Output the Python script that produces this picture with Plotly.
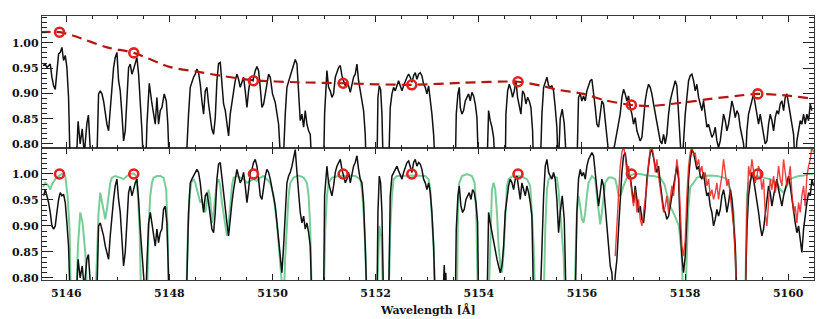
import plotly.graph_objects as go

# ---------------- data ----------------
# top panel: observed spectrum (black)
wl_top = [5145.55, 5145.593, 5145.625, 5145.690, 5145.722, 5145.755, 5145.787, 5145.819, 5145.852, 5145.884,
          5145.916, 5145.948, 5145.981, 5146.013, 5146.045, 5146.078, 5146.19, 5146.23, 5146.27, 5146.31,
          5146.35, 5146.40, 5146.43, 5146.46, 5146.49, 5146.59, 5146.608, 5146.627, 5146.660, 5146.692,
          5146.724, 5146.757, 5146.789, 5146.821, 5146.853, 5146.886, 5146.918, 5146.950, 5146.983, 5147.015,
          5147.047, 5147.080, 5147.112, 5147.144, 5147.177, 5147.209, 5147.241, 5147.274, 5147.306, 5147.338,
          5147.371, 5147.403, 5147.435, 5147.468, 5147.500, 5147.54, 5147.565, 5147.61, 5147.661, 5147.694,
          5147.726, 5147.758, 5147.790, 5147.823, 5147.855, 5147.90, 5147.94, 5147.97, 5148.00, 5148.32,
          5148.340, 5148.372, 5148.405, 5148.437, 5148.469, 5148.502, 5148.534, 5148.566, 5148.599, 5148.631,
          5148.663, 5148.696, 5148.728, 5148.760, 5148.793, 5148.825, 5148.857, 5148.890, 5148.922, 5148.954,
          5148.987, 5149.019, 5149.051, 5149.084, 5149.116, 5149.148, 5149.180, 5149.213, 5149.245, 5149.277,
          5149.310, 5149.342, 5149.374, 5149.407, 5149.439, 5149.471, 5149.504, 5149.536, 5149.568, 5149.62,
          5149.665, 5149.698, 5149.730, 5149.762, 5149.795, 5149.827, 5149.859, 5149.892, 5149.924, 5149.956,
          5150.00, 5150.053, 5150.086, 5150.118, 5150.150, 5150.215, 5150.247, 5150.279, 5150.325, 5150.377,
          5150.441, 5150.474, 5150.506, 5150.538, 5150.570, 5150.603, 5150.635, 5150.667, 5150.700, 5150.732,
          5150.764, 5150.99, 5151.010, 5151.036, 5151.055, 5151.087, 5151.120, 5151.152, 5151.184, 5151.217,
          5151.249, 5151.281, 5151.314, 5151.346, 5151.378, 5151.411, 5151.443, 5151.475, 5151.508, 5151.540,
          5151.572, 5151.604, 5151.637, 5151.669, 5151.701, 5151.734, 5151.766, 5151.798, 5151.818, 5152.025,
          5152.044, 5152.070, 5152.096, 5152.122, 5152.148, 5152.251, 5152.283, 5152.316, 5152.348, 5152.380,
          5152.413, 5152.445, 5152.477, 5152.510, 5152.542, 5152.574, 5152.607, 5152.639, 5152.671, 5152.704,
          5152.736, 5152.768, 5152.800, 5152.833, 5152.865, 5152.897, 5152.930, 5152.962, 5152.994, 5153.027,
          5153.059, 5153.091, 5153.124, 5153.156, 5153.544, 5153.563, 5153.595, 5153.621, 5153.641, 5153.673,
          5153.705, 5153.738, 5153.770, 5153.802, 5153.835, 5153.867, 5153.899, 5153.932, 5153.964, 5153.996,
          5154.158, 5154.190, 5154.222, 5154.255, 5154.287, 5154.319, 5154.513, 5154.526, 5154.559, 5154.591,
          5154.630, 5154.655, 5154.688, 5154.720, 5154.752, 5154.785, 5154.817, 5154.849, 5154.882, 5154.914,
          5154.946, 5154.979, 5155.011, 5155.043, 5155.063, 5155.192, 5155.224, 5155.257, 5155.289, 5155.321,
          5155.354, 5155.385, 5155.417, 5155.450, 5155.482, 5155.514, 5155.540, 5155.579, 5155.618, 5155.657,
          5155.708, 5155.902, 5155.934, 5155.967, 5155.999, 5156.031, 5156.064, 5156.096, 5156.128, 5156.161,
          5156.193, 5156.225, 5156.258, 5156.290, 5156.322, 5156.355, 5156.387, 5156.419, 5156.452, 5156.484,
          5156.516, 5156.549, 5156.742, 5156.775, 5156.807, 5156.839, 5156.872, 5156.904, 5156.936, 5156.969,
          5157.001, 5157.033, 5157.066, 5157.098, 5157.130, 5157.163, 5157.195, 5157.227, 5157.259, 5157.292,
          5157.324, 5157.356, 5157.389, 5157.421, 5157.453, 5157.486, 5157.518, 5157.550, 5157.583, 5157.615,
          5157.647, 5157.680, 5157.712, 5157.744, 5157.777, 5157.809, 5157.841, 5157.874, 5157.906, 5157.938,
          5158.003, 5158.035, 5158.068, 5158.100, 5158.132, 5158.165, 5158.197, 5158.229, 5158.262, 5158.294,
          5158.326, 5158.358, 5158.391, 5158.423, 5158.455, 5158.488, 5158.520, 5158.552, 5158.585, 5158.617,
          5158.649, 5158.682, 5158.714, 5158.746, 5158.779, 5158.811, 5158.843, 5158.876, 5158.908, 5158.940,
          5158.973, 5159.005, 5159.037, 5159.069, 5159.102, 5159.134, 5159.166, 5159.199, 5159.231, 5159.263,
          5159.296, 5159.328, 5159.360, 5159.393, 5159.425, 5159.457, 5159.490, 5159.522, 5159.554, 5159.587,
          5159.619, 5159.651, 5159.684, 5159.716, 5159.748, 5159.781, 5159.813, 5159.845, 5159.878, 5159.910,
          5159.942, 5159.974, 5160.007, 5160.039, 5160.071, 5160.104, 5160.136, 5160.168, 5160.201, 5160.233,
          5160.265, 5160.298, 5160.330, 5160.362, 5160.395, 5160.427, 5160.459, 5160.492]
fl_top = [0.955, 0.958, 0.951, 0.958, 0.932, 0.915, 0.908, 0.938, 0.978, 0.981,
          0.991, 0.965, 0.975, 0.951, 0.892, 0.75, 0.75, 0.845, 0.80, 0.83,
          0.78, 0.84, 0.857, 0.80, 0.75, 0.75, 0.859, 0.899, 0.905, 0.899,
          0.885, 0.859, 0.839, 0.826, 0.872, 0.925, 0.951, 0.971, 0.981, 0.925,
          0.905, 0.859, 0.806, 0.826, 0.892, 0.951, 0.958, 0.938, 0.948, 0.958,
          0.971, 0.938, 0.885, 0.826, 0.75, 0.75, 0.839, 0.920, 0.880, 0.859,
          0.839, 0.892, 0.839, 0.866, 0.872, 0.899, 0.885, 0.839, 0.75, 0.75,
          0.806, 0.859, 0.912, 0.925, 0.932, 0.938, 0.948, 0.941, 0.918, 0.885,
          0.859, 0.905, 0.912, 0.879, 0.852, 0.829, 0.819, 0.852, 0.925, 0.959,
          0.961, 0.925, 0.879, 0.866, 0.839, 0.816, 0.859, 0.885, 0.905, 0.925,
          0.938, 0.928, 0.912, 0.925, 0.932, 0.905, 0.872, 0.905, 0.928, 0.925,
          0.945, 0.953, 0.945, 0.912, 0.872, 0.879, 0.899, 0.925, 0.938, 0.932,
          0.899, 0.882, 0.859, 0.839, 0.78, 0.78, 0.859, 0.912, 0.928, 0.945,
          0.967, 0.958, 0.900, 0.846, 0.859, 0.833, 0.866, 0.839, 0.826, 0.819,
          0.75, 0.75, 0.859, 0.905, 0.945, 0.912, 0.905, 0.892, 0.899, 0.932,
          0.941, 0.951, 0.955, 0.935, 0.925, 0.915, 0.922, 0.915, 0.902, 0.918,
          0.932, 0.938, 0.958, 0.925, 0.905, 0.892, 0.866, 0.819, 0.75, 0.75,
          0.892, 0.915, 0.908, 0.859, 0.75, 0.75, 0.872, 0.899, 0.912, 0.905,
          0.918, 0.925, 0.915, 0.905, 0.915, 0.925, 0.932, 0.938, 0.932, 0.922,
          0.935, 0.941, 0.928, 0.938, 0.941, 0.935, 0.918, 0.912, 0.899, 0.915,
          0.892, 0.859, 0.819, 0.75, 0.75, 0.859, 0.899, 0.912, 0.872, 0.859,
          0.866, 0.885, 0.892, 0.899, 0.885, 0.902, 0.895, 0.879, 0.852, 0.75,
          0.75, 0.866, 0.846, 0.833, 0.813, 0.75, 0.75, 0.859, 0.905, 0.918,
          0.905, 0.892, 0.905, 0.925, 0.892, 0.872, 0.859, 0.905, 0.899, 0.879,
          0.892, 0.885, 0.872, 0.826, 0.75, 0.75, 0.859, 0.912, 0.925, 0.932,
          0.915, 0.913, 0.915, 0.905, 0.872, 0.833, 0.75, 0.85, 0.869, 0.84,
          0.75, 0.75, 0.892, 0.899, 0.885, 0.895, 0.885, 0.905, 0.915, 0.925,
          0.928, 0.905, 0.872, 0.839, 0.833, 0.859, 0.885, 0.879, 0.839, 0.806,
          0.75, 0.75, 0.859, 0.892, 0.908, 0.899, 0.885, 0.895, 0.872, 0.859,
          0.839, 0.852, 0.826, 0.813, 0.806, 0.813, 0.859, 0.885, 0.905, 0.918,
          0.912, 0.899, 0.879, 0.859, 0.846, 0.826, 0.806, 0.80, 0.819, 0.80,
          0.819, 0.859, 0.885, 0.899, 0.912, 0.925, 0.915, 0.859, 0.75, 0.75,
          0.859, 0.899, 0.925, 0.935, 0.938, 0.925, 0.905, 0.918, 0.892, 0.879,
          0.866, 0.885, 0.859, 0.833, 0.839, 0.826, 0.813, 0.819, 0.833, 0.806,
          0.793, 0.806, 0.839, 0.859, 0.846, 0.826, 0.839, 0.866, 0.885, 0.872,
          0.852, 0.866, 0.859, 0.833, 0.813, 0.80, 0.75, 0.826, 0.859, 0.872,
          0.885, 0.899, 0.879, 0.859, 0.839, 0.859, 0.833, 0.819, 0.80, 0.806,
          0.839, 0.859, 0.846, 0.826, 0.852, 0.866, 0.859, 0.879, 0.885, 0.866,
          0.892, 0.899, 0.879, 0.859, 0.833, 0.819, 0.75, 0.806, 0.826, 0.846,
          0.839, 0.859, 0.839, 0.859, 0.846, 0.879, 0.866]
# continuum fit (red dashed) and continuum points (red circles)
cont_wl = [5145.50, 5145.87, 5146.14, 5146.79, 5147.31, 5148.02, 5148.53, 5148.99, 5149.63, 5150.47,
           5151.37, 5152.0, 5152.70, 5153.7, 5154.76, 5155.22, 5155.48, 5156.03, 5156.42, 5156.96,
           5157.32, 5157.97, 5158.49, 5159.0, 5159.41, 5160.04, 5160.50]
cont_fl = [1.021, 1.021, 1.014, 0.991, 0.980, 0.952, 0.943, 0.935, 0.926, 0.922,
           0.920, 0.918, 0.917, 0.921, 0.923, 0.915, 0.908, 0.899, 0.887, 0.877,
           0.875, 0.882, 0.889, 0.895, 0.899, 0.895, 0.889]
pts_wl = [5145.87, 5147.31, 5149.63, 5151.37, 5152.70, 5154.76, 5156.96, 5159.41]
pts_fl = [1.021, 0.980, 0.925, 0.920, 0.917, 0.923, 0.877, 0.899]
pts_norm = [1.0, 1.0, 1.0, 1.0, 1.0, 1.0, 1.0, 1.0]

# bottom panel: normalised observed spectrum (black)
wl_bot = [5145.561, 5145.593, 5145.625, 5145.658, 5145.690, 5145.722, 5145.755, 5145.787, 5145.819, 5145.852,
          5145.884, 5145.916, 5145.948, 5145.981, 5146.013, 5146.045, 5146.078, 5146.19, 5146.23, 5146.27,
          5146.31, 5146.35, 5146.40, 5146.43, 5146.46, 5146.49, 5146.59, 5146.627, 5146.660, 5146.692,
          5146.724, 5146.757, 5146.789, 5146.821, 5146.853, 5146.886, 5146.918, 5146.950, 5146.983, 5147.015,
          5147.047, 5147.080, 5147.112, 5147.144, 5147.177, 5147.209, 5147.241, 5147.274, 5147.306, 5147.338,
          5147.371, 5147.403, 5147.435, 5147.468, 5147.500, 5147.54, 5147.565, 5147.598, 5147.63, 5147.661,
          5147.694, 5147.726, 5147.758, 5147.790, 5147.823, 5147.855, 5147.887, 5147.919, 5147.952, 5147.98,
          5148.00, 5148.32, 5148.340, 5148.372, 5148.405, 5148.437, 5148.469, 5148.502, 5148.534, 5148.566,
          5148.599, 5148.631, 5148.663, 5148.696, 5148.728, 5148.760, 5148.793, 5148.825, 5148.857, 5148.890,
          5148.922, 5148.954, 5148.987, 5149.019, 5149.051, 5149.084, 5149.116, 5149.148, 5149.180, 5149.213,
          5149.245, 5149.277, 5149.310, 5149.342, 5149.374, 5149.407, 5149.439, 5149.471, 5149.504, 5149.536,
          5149.568, 5149.601, 5149.633, 5149.665, 5149.698, 5149.730, 5149.762, 5149.795, 5149.827, 5149.859,
          5149.892, 5149.924, 5149.956, 5149.989, 5150.021, 5150.053, 5150.086, 5150.118, 5150.150, 5150.182,
          5150.215, 5150.247, 5150.279, 5150.312, 5150.344, 5150.377, 5150.409, 5150.441, 5150.474, 5150.506,
          5150.538, 5150.570, 5150.603, 5150.635, 5150.667, 5150.700, 5150.732, 5150.764, 5150.990, 5151.010,
          5151.036, 5151.055, 5151.087, 5151.120, 5151.152, 5151.184, 5151.217, 5151.249, 5151.281, 5151.314,
          5151.346, 5151.378, 5151.411, 5151.443, 5151.475, 5151.508, 5151.540, 5151.572, 5151.604, 5151.637,
          5151.669, 5151.701, 5151.734, 5151.766, 5151.798, 5151.831, 5152.025, 5152.044, 5152.070, 5152.096,
          5152.122, 5152.154, 5152.251, 5152.283, 5152.316, 5152.348, 5152.380, 5152.413, 5152.445, 5152.477,
          5152.510, 5152.542, 5152.574, 5152.607, 5152.639, 5152.671, 5152.704, 5152.736, 5152.768, 5152.800,
          5152.833, 5152.865, 5152.897, 5152.930, 5152.962, 5152.994, 5153.027, 5153.059, 5153.091, 5153.124,
          5153.156, 5153.30, 5153.33, 5153.345, 5153.36, 5153.38, 5153.544, 5153.563, 5153.595, 5153.621,
          5153.654, 5153.686, 5153.718, 5153.751, 5153.783, 5153.815, 5153.848, 5153.880, 5153.912, 5153.945,
          5153.977, 5153.996, 5154.16, 5154.190, 5154.222, 5154.255, 5154.287, 5154.319, 5154.352, 5154.384,
          5154.416, 5154.449, 5154.481, 5154.513, 5154.546, 5154.578, 5154.610, 5154.643, 5154.675, 5154.707,
          5154.740, 5154.772, 5154.804, 5154.836, 5154.869, 5154.901, 5154.933, 5154.966, 5154.998, 5155.030,
          5155.063, 5155.19, 5155.257, 5155.289, 5155.321, 5155.354, 5155.386, 5155.418, 5155.450, 5155.482,
          5155.514, 5155.547, 5155.579, 5155.618, 5155.657, 5155.695, 5155.870, 5155.902, 5155.934, 5155.967,
          5155.999, 5156.031, 5156.064, 5156.096, 5156.128, 5156.161, 5156.193, 5156.225, 5156.258, 5156.290,
          5156.322, 5156.355, 5156.387, 5156.419, 5156.452, 5156.484, 5156.516, 5156.549, 5156.581, 5156.613,
          5156.645, 5156.678, 5156.710, 5156.742, 5156.775, 5156.807, 5156.839, 5156.872, 5156.904, 5156.936,
          5156.969, 5157.001, 5157.033, 5157.066, 5157.098, 5157.130, 5157.163, 5157.195, 5157.227, 5157.259,
          5157.292, 5157.324, 5157.356, 5157.389, 5157.421, 5157.453, 5157.486, 5157.518, 5157.550, 5157.583,
          5157.615, 5157.647, 5157.680, 5157.712, 5157.744, 5157.777, 5157.809, 5157.841, 5157.874, 5157.906,
          5157.938, 5157.970, 5158.003, 5158.035, 5158.068, 5158.100, 5158.132, 5158.165, 5158.197, 5158.229,
          5158.262, 5158.294, 5158.326, 5158.358, 5158.391, 5158.423, 5158.455, 5158.488, 5158.520, 5158.552,
          5158.585, 5158.617, 5158.649, 5158.682, 5158.714, 5158.746, 5158.779, 5158.811, 5158.843, 5158.876,
          5158.908, 5158.940, 5158.973, 5159.005, 5159.166, 5159.199, 5159.231, 5159.263, 5159.296, 5159.328,
          5159.360, 5159.393, 5159.425, 5159.457, 5159.490, 5159.522, 5159.554, 5159.587, 5159.619, 5159.651,
          5159.684, 5159.716, 5159.748, 5159.781, 5159.813, 5159.845, 5159.878, 5159.910, 5159.942, 5159.974,
          5160.007, 5160.039, 5160.071, 5160.104, 5160.136, 5160.168, 5160.201, 5160.233, 5160.265, 5160.298,
          5160.330, 5160.362, 5160.395, 5160.427, 5160.459, 5160.492]
fl_bot = [0.958, 0.970, 0.958, 0.945, 0.926, 0.900, 0.894, 0.900, 0.926, 0.951,
          0.964, 0.958, 0.961, 0.945, 0.906, 0.861, 0.75, 0.75, 0.836, 0.80,
          0.823, 0.78, 0.836, 0.845, 0.80, 0.75, 0.75, 0.900, 0.906, 0.894,
          0.881, 0.861, 0.849, 0.836, 0.881, 0.926, 0.951, 0.977, 0.990, 0.951,
          0.926, 0.874, 0.823, 0.849, 0.906, 0.964, 0.977, 0.958, 0.970, 0.983,
          0.990, 0.951, 0.894, 0.829, 0.75, 0.75, 0.829, 0.906, 0.926, 0.906,
          0.881, 0.861, 0.894, 0.868, 0.887, 0.894, 0.932, 0.938, 0.906, 0.80,
          0.75, 0.75, 0.80, 0.926, 0.983, 0.990, 0.996, 1.003, 1.009, 1.003,
          0.983, 0.951, 0.926, 0.958, 0.964, 0.945, 0.919, 0.894, 0.887, 0.926,
          0.990, 1.019, 1.022, 0.990, 0.958, 0.938, 0.906, 0.881, 0.919, 0.945,
          0.970, 0.990, 1.009, 0.996, 0.983, 0.990, 1.003, 0.977, 0.945, 0.970,
          1.003, 1.009, 1.022, 1.028, 1.015, 0.990, 0.958, 0.951, 0.977, 0.996,
          1.009, 1.003, 0.990, 0.970, 0.958, 0.938, 0.906, 0.874, 0.842, 0.810,
          0.861, 0.926, 0.983, 0.996, 1.003, 1.015, 1.028, 1.047, 1.003, 0.958,
          0.926, 0.906, 0.919, 0.894, 0.906, 0.887, 0.861, 0.75, 0.75, 0.958,
          1.003, 1.015, 0.983, 0.970, 0.958, 0.977, 1.003, 1.015, 1.022, 1.028,
          1.009, 0.996, 0.983, 0.990, 1.003, 0.983, 1.003, 1.015, 1.022, 1.035,
          1.009, 0.990, 0.983, 0.945, 0.861, 0.75, 0.75, 0.926, 0.996, 0.983,
          0.926, 0.75, 0.75, 0.958, 0.996, 1.003, 1.009, 1.015, 1.006, 0.996,
          0.990, 1.003, 1.015, 1.022, 1.025, 1.015, 1.003, 1.022, 1.028, 1.015,
          1.022, 1.019, 1.009, 0.990, 0.983, 0.970, 0.983, 0.964, 0.926, 0.861,
          0.75, 0.75, 0.825, 0.78, 0.81, 0.75, 0.75, 0.894, 0.958, 0.977,
          0.938, 0.926, 0.932, 0.951, 0.958, 0.964, 0.951, 0.970, 0.964, 0.945,
          0.906, 0.75, 0.75, 0.926, 0.906, 0.887, 0.868, 0.849, 0.836, 0.823,
          0.810, 0.823, 0.861, 0.926, 0.958, 0.977, 0.990, 0.983, 0.970, 0.990,
          0.996, 0.970, 0.951, 0.983, 0.970, 0.958, 0.977, 0.964, 0.945, 0.919,
          0.75, 0.75, 0.958, 1.015, 1.028, 1.003, 0.996, 0.990, 1.003, 0.990,
          0.951, 0.887, 0.926, 0.958, 0.913, 0.75, 0.75, 0.926, 0.990, 1.009,
          0.996, 1.003, 0.990, 1.015, 1.028, 1.035, 1.041, 1.035, 1.003, 0.958,
          0.938, 0.964, 0.990, 0.977, 0.938, 0.894, 0.849, 0.823, 0.810, 0.75,
          0.804, 0.836, 0.894, 0.958, 1.003, 1.035, 1.041, 1.015, 0.990, 0.996,
          0.970, 0.945, 0.977, 0.951, 0.926, 0.938, 0.913, 0.906, 0.938, 0.990,
          1.015, 1.041, 1.047, 1.028, 1.015, 1.003, 1.015, 0.983, 0.958, 0.932,
          0.926, 0.913, 0.919, 0.938, 0.958, 0.977, 1.003, 1.015, 0.990, 0.894,
          0.842, 0.810, 0.842, 0.926, 0.990, 1.028, 1.047, 1.041, 1.022, 1.009,
          1.015, 0.996, 0.990, 1.003, 0.977, 0.958, 0.964, 0.938, 0.926, 0.900,
          0.913, 0.932, 0.919, 0.932, 0.958, 0.970, 0.951, 0.926, 0.945, 0.970,
          0.951, 0.913, 0.861, 0.75, 0.75, 0.894, 0.958, 0.983, 1.003, 0.990,
          0.970, 0.945, 0.926, 0.900, 0.881, 0.894, 0.926, 0.958, 0.977, 0.964,
          0.938, 0.958, 0.977, 0.990, 0.970, 0.951, 0.938, 0.958, 0.970, 0.983,
          0.996, 0.977, 0.951, 0.926, 0.906, 0.887, 0.900, 0.874, 0.849, 0.894,
          0.926, 0.945, 0.964, 0.958, 0.990, 0.977]

# bottom panel: second normalised spectrum (red)
wl_red = [5156.645, 5156.678, 5156.710, 5156.742, 5156.775, 5156.807, 5156.839, 5156.872, 5156.904, 5156.936,
          5156.969, 5157.001, 5157.033, 5157.066, 5157.098, 5157.130, 5157.163, 5157.195, 5157.227, 5157.259,
          5157.292, 5157.324, 5157.356, 5157.389, 5157.421, 5157.453, 5157.486, 5157.518, 5157.550, 5157.583,
          5157.615, 5157.647, 5157.680, 5157.712, 5157.744, 5157.777, 5157.809, 5157.841, 5157.874, 5157.906,
          5157.938, 5157.970, 5158.003, 5158.035, 5158.068, 5158.100, 5158.132, 5158.165, 5158.197, 5158.229,
          5158.262, 5158.294, 5158.326, 5158.358, 5158.391, 5158.423, 5158.455, 5158.488, 5158.520, 5158.552,
          5158.585, 5158.617, 5158.649, 5158.682, 5158.714, 5158.746, 5158.779, 5158.811, 5158.843, 5158.876,
          5158.908, 5158.940, 5158.973, 5159.005, 5159.166, 5159.199, 5159.231, 5159.263, 5159.296, 5159.328,
          5159.360, 5159.393, 5159.425, 5159.457, 5159.490, 5159.522, 5159.554, 5159.587, 5159.619, 5159.651,
          5159.684, 5159.716, 5159.748, 5159.781, 5159.813, 5159.845, 5159.878, 5159.910, 5159.942, 5159.974,
          5160.007, 5160.039, 5160.071, 5160.104, 5160.136, 5160.168, 5160.201, 5160.233, 5160.265, 5160.298,
          5160.330, 5160.362, 5160.395, 5160.427, 5160.459, 5160.492]
fl_red = [0.842, 0.894, 0.958, 1.015, 1.041, 1.054, 1.035, 1.003, 1.015, 0.990,
          0.964, 0.938, 0.970, 0.926, 0.951, 0.913, 0.900, 0.926, 0.945, 0.977,
          1.022, 1.047, 1.054, 1.035, 1.003, 1.028, 0.996, 0.970, 0.951, 0.926,
          0.938, 0.958, 0.926, 0.951, 0.977, 0.958, 0.990, 1.028, 1.003, 0.926,
          0.861, 0.842, 0.874, 0.958, 1.015, 1.041, 1.054, 1.035, 1.041, 1.015,
          1.028, 1.003, 1.015, 0.990, 1.003, 0.977, 0.990, 0.958, 0.970, 0.951,
          0.964, 0.983, 0.951, 0.977, 0.996, 1.028, 1.003, 0.977, 0.990, 0.958,
          0.938, 0.900, 0.842, 0.75, 0.75, 0.926, 1.015, 0.996, 1.028, 1.009,
          0.983, 0.996, 1.015, 1.003, 0.970, 0.990, 0.926, 0.900, 0.958, 0.990,
          0.970, 0.996, 0.964, 0.983, 1.015, 0.990, 0.977, 1.028, 1.003, 0.977,
          0.990, 1.015, 0.964, 0.926, 0.938, 0.906, 0.945, 0.926, 0.958, 0.977,
          0.938, 0.996, 1.015, 1.028, 1.054, 1.041]

# bottom panel: model spectrum (green)
wl_mod = [5145.548, 5145.593, 5145.658, 5145.690, 5145.722, 5145.787, 5145.852, 5145.916, 5145.981, 5146.026,
          5146.065, 5146.091, 5146.194, 5146.227, 5146.272, 5146.317, 5146.369, 5146.414, 5146.563, 5146.595,
          5146.627, 5146.660, 5146.692, 5146.724, 5146.757, 5146.789, 5146.821, 5146.853, 5146.886, 5146.950,
          5147.047, 5147.112, 5147.177, 5147.241, 5147.306, 5147.358, 5147.390, 5147.422, 5147.455, 5147.565,
          5147.597, 5147.629, 5147.662, 5147.694, 5147.758, 5147.823, 5147.888, 5147.939, 5147.965, 5147.991,
          5148.327, 5148.360, 5148.392, 5148.424, 5148.469, 5148.502, 5148.534, 5148.566, 5148.599, 5148.631,
          5148.663, 5148.696, 5148.728, 5148.760, 5148.793, 5148.825, 5148.857, 5148.890, 5148.922, 5148.954,
          5148.987, 5149.019, 5149.051, 5149.084, 5149.116, 5149.148, 5149.180, 5149.213, 5149.245, 5149.310,
          5149.374, 5149.439, 5149.504, 5149.568, 5149.633, 5149.698, 5149.762, 5149.827, 5149.892, 5149.956,
          5150.021, 5150.086, 5150.137, 5150.183, 5150.215, 5150.247, 5150.279, 5150.312, 5150.344, 5150.409,
          5150.474, 5150.506, 5150.603, 5150.667, 5150.700, 5150.732, 5150.764, 5150.990, 5151.023, 5151.055,
          5151.087, 5151.152, 5151.281, 5151.475, 5151.604, 5151.701, 5151.734, 5151.766, 5151.798, 5151.831,
          5152.025, 5152.070, 5152.109, 5152.148, 5152.251, 5152.283, 5152.316, 5152.348, 5152.413, 5152.574,
          5152.768, 5152.962, 5153.027, 5153.059, 5153.091, 5153.124, 5153.156, 5153.576, 5153.595, 5153.621,
          5153.673, 5153.770, 5153.867, 5153.919, 5153.951, 5153.983, 5154.190, 5154.222, 5154.255, 5154.287,
          5154.319, 5154.352, 5154.384, 5154.416, 5154.449, 5154.481, 5154.513, 5154.546, 5154.578, 5154.643,
          5154.740, 5154.836, 5154.933, 5154.998, 5155.030, 5155.063, 5155.095, 5155.257, 5155.289, 5155.321,
          5155.354, 5155.418, 5155.514, 5155.547, 5155.579, 5155.611, 5155.644, 5155.676, 5155.850, 5155.902,
          5155.934, 5155.967, 5155.999, 5156.031, 5156.064, 5156.096, 5156.128, 5156.193, 5156.258, 5156.290,
          5156.322, 5156.355, 5156.387, 5156.419, 5156.452, 5156.516, 5156.581, 5156.645, 5156.678, 5156.710,
          5156.755, 5156.807, 5156.872, 5157.001, 5157.130, 5157.259, 5157.389, 5157.518, 5157.60, 5157.70,
          5157.80, 5157.88, 5157.93, 5157.97, 5158.02, 5158.06, 5158.10, 5158.165, 5158.23, 5158.36,
          5158.49, 5158.62, 5158.75, 5158.81, 5158.88, 5158.94, 5158.97, 5159.005, 5159.166, 5159.199,
          5159.231, 5159.296, 5159.393, 5159.522, 5159.651, 5159.781, 5159.845, 5159.910, 5159.974, 5160.039,
          5160.104, 5160.201, 5160.298, 5160.395, 5160.492]
fl_mod = [0.975, 0.983, 0.977, 0.970, 0.980, 0.990, 0.996, 1.000, 0.996, 0.958,
          0.894, 0.75, 0.75, 0.861, 0.926, 0.906, 0.849, 0.75, 0.75, 0.861,
          0.926, 0.964, 0.945, 0.926, 0.913, 0.932, 0.958, 0.983, 0.993, 0.996,
          0.993, 0.990, 0.996, 1.000, 1.001, 0.996, 0.958, 0.894, 0.75, 0.75,
          0.894, 0.958, 0.983, 0.993, 0.996, 0.996, 0.993, 0.970, 0.894, 0.75,
          0.75, 0.894, 0.958, 0.983, 0.990, 0.983, 0.970, 0.958, 0.945, 0.951,
          0.938, 0.926, 0.945, 0.970, 0.951, 0.906, 0.926, 0.958, 0.983, 0.990,
          0.977, 0.945, 0.926, 0.900, 0.881, 0.900, 0.938, 0.977, 0.993, 0.996,
          0.993, 0.990, 0.983, 0.987, 0.990, 0.987, 0.993, 0.996, 0.990, 0.983,
          0.958, 0.906, 0.842, 0.75, 0.75, 0.842, 0.906, 0.958, 0.983, 0.993,
          0.996, 0.997, 0.993, 0.983, 0.958, 0.894, 0.75, 0.75, 0.894, 0.958,
          0.983, 0.993, 0.996, 0.997, 0.996, 0.990, 0.970, 0.926, 0.861, 0.75,
          0.75, 0.90, 0.88, 0.75, 0.75, 0.894, 0.958, 0.990, 0.996, 0.997,
          0.997, 0.996, 0.990, 0.970, 0.926, 0.861, 0.75, 0.75, 0.926, 0.983,
          0.996, 1.000, 0.996, 0.983, 0.926, 0.75, 0.75, 0.861, 0.970, 0.983,
          0.970, 0.926, 0.861, 0.829, 0.810, 0.849, 0.926, 0.977, 0.990, 0.995,
          0.996, 0.995, 0.990, 0.977, 0.926, 0.861, 0.75, 0.75, 0.894, 0.970,
          0.990, 0.996, 0.993, 0.970, 0.926, 0.874, 0.842, 0.75, 0.75, 0.926,
          0.958, 0.938, 0.913, 0.906, 0.926, 0.958, 0.983, 0.996, 0.990, 0.958,
          0.926, 0.903, 0.926, 0.958, 0.983, 0.993, 0.993, 0.990, 0.977, 0.958,
          0.960, 0.977, 0.993, 1.000, 1.000, 0.997, 0.996, 0.993, 0.980, 0.940,
          0.920, 0.900, 0.850, 0.75, 0.80, 0.930, 0.975, 0.983, 0.993, 0.996,
          0.997, 0.996, 0.993, 0.990, 0.970, 0.926, 0.861, 0.75, 0.75, 0.958,
          0.983, 0.993, 0.996, 0.993, 0.990, 0.983, 0.970, 0.964, 0.977, 0.990,
          0.993, 0.996, 0.997, 1.000, 1.000]

x_ticks = [5146, 5148, 5150, 5152, 5154, 5156, 5158, 5160]
y_ticks = [0.80, 0.85, 0.90, 0.95, 1.00]
x_range = [5145.53, 5160.50]
y_range_top = [0.792, 1.053]
y_range_bot = [0.796, 1.050]
x_title = "Wavelength [Å]"

# ---------------- figure ----------------
BLACK = "#111111"
RED_DASH = "#b3150f"
RED_PT = "#e3201b"
RED_SPEC = "#ee1c1c"
GREEN = "#78cc98"
tickfont = dict(family="DejaVu Serif", size=11, color="#111111", weight="bold")

fig = go.Figure()
# top panel
fig.add_trace(go.Scatter(x=wl_top, y=fl_top, mode="lines", line=dict(color=BLACK, width=1.5),
                         xaxis="x2", yaxis="y2", showlegend=False))
fig.add_trace(go.Scatter(x=cont_wl, y=cont_fl, mode="lines",
                         line=dict(color=RED_DASH, width=2.2, dash="10px,6px", shape="spline", smoothing=0.8),
                         xaxis="x2", yaxis="y2", showlegend=False))
fig.add_trace(go.Scatter(x=pts_wl, y=pts_fl, mode="markers",
                         marker=dict(symbol="circle-open", size=9, color=RED_PT, line=dict(width=2.6, color=RED_PT)),
                         xaxis="x2", yaxis="y2", showlegend=False))
# bottom panel
fig.add_trace(go.Scatter(x=wl_mod, y=fl_mod, mode="lines", line=dict(color=GREEN, width=2.0),
                         xaxis="x", yaxis="y", showlegend=False))
fig.add_trace(go.Scatter(x=wl_bot, y=fl_bot, mode="lines", line=dict(color=BLACK, width=1.5),
                         xaxis="x", yaxis="y", showlegend=False))
fig.add_trace(go.Scatter(x=wl_red, y=fl_red, mode="lines", line=dict(color=RED_SPEC, width=1.4),
                         opacity=0.85, xaxis="x", yaxis="y", showlegend=False))
fig.add_trace(go.Scatter(x=pts_wl, y=pts_norm, mode="markers",
                         marker=dict(symbol="circle-open", size=9, color=RED_PT, line=dict(width=2.6, color=RED_PT)),
                         xaxis="x", yaxis="y", showlegend=False))

axis_common = dict(showgrid=False, zeroline=False, showline=True, linecolor="#3a3a3a", linewidth=1.2,
                   mirror="allticks", ticks="inside", tickcolor="#222222", tickwidth=1, automargin=False)
xcommon = dict(axis_common, range=x_range, tickvals=x_ticks, ticklen=6,
               minor=dict(dtick=0.5, tick0=5146, ticks="inside", ticklen=3, tickcolor="#222222"))
ycommon = dict(axis_common, tickvals=y_ticks, ticktext=[f"{v:.2f}" for v in y_ticks], ticklen=11,
               minor=dict(dtick=0.01, tick0=0.80, ticks="inside", ticklen=5, tickcolor="#222222"),
               tickfont=tickfont)

# the page adds an 8 px body margin, so the figure is 822x311 and offset accordingly
fig.update_layout(
    width=822, height=311,
    margin=dict(l=34, r=16, t=8, b=39, autoexpand=False),
    paper_bgcolor="white", plot_bgcolor="white",
    xaxis=dict(xcommon, anchor="y", domain=[0, 1], tickfont=tickfont, ticklabelstandoff=3),
    xaxis2=dict(xcommon, anchor="y2", domain=[0, 1], matches="x", showticklabels=False),
    yaxis=dict(ycommon, anchor="x", domain=[0, 0.5], range=y_range_bot),
    yaxis2=dict(ycommon, anchor="x2", domain=[0.5, 1], range=y_range_top),
    annotations=[dict(text=x_title, xref="paper", yref="paper", x=0.5, y=-30 / 264,
                      xanchor="center", yanchor="middle", showarrow=False,
                      font=dict(family="DejaVu Serif", size=11, color="#111111", weight="bold"))],
)

fig.write_html("out.html")
